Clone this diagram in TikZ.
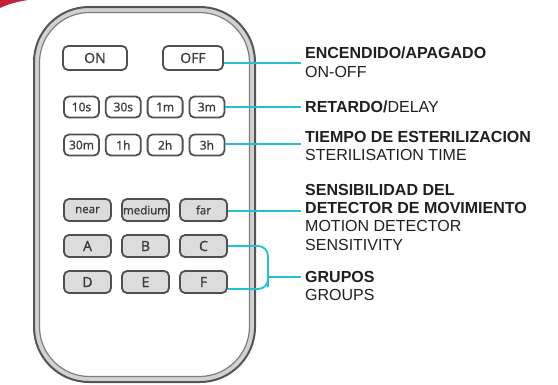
\documentclass[tikz,border=0pt]{standalone}
\usepackage{fontspec}
\setmainfont{Liberation Sans}
\newfontfamily\keyfont{Open Sans}[FakeBold=1.3]
\usetikzlibrary{positioning}
\definecolor{leadcyan}{HTML}{22BFD6}
\definecolor{shellline}{HTML}{555555}
\definecolor{shellband}{HTML}{D2D2D2}
\definecolor{shellin}{HTML}{7E7E7E}
\definecolor{keyline}{HTML}{505050}
\definecolor{keyfill}{HTML}{DCDCDC}
\definecolor{keytext}{HTML}{3C3C3C}
\definecolor{swoosh}{HTML}{C3223A}

\begin{document}
\begin{tikzpicture}[x=1pt, y=-1pt,
  key/.style={draw=keyline, line width=1.8pt, rounded corners=5pt,
              inner sep=0pt, text=keytext, fill=white},
  keybig/.style={key, minimum height=24pt, font=\keyfont\fontsize{14}{14}\selectfont},
  keysm/.style={key, minimum width=35pt, minimum height=21pt,
                font=\keyfont\fontsize{12}{12}\selectfont},
  keygrey/.style={key, fill=keyfill, minimum width=47pt, minimum height=22pt},
  lead/.style={draw=leadcyan, line width=1.8pt},
  lbl/.style={anchor=north west, inner sep=0pt, align=left,
              font=\fontsize{16}{18.3}\selectfont, text=black!88}
]
\useasboundingbox (0,0) rectangle (558,384);
\fill[swoosh] (0,0) -- (28,0) .. controls (15,2) and (6,5) .. (0,8) -- cycle;

% remote body
\draw[draw=shellline, line width=2pt, fill=shellband, rounded corners=55pt]
  (34,7) rectangle (255,382);
\draw[draw=shellin, line width=1.2pt, fill=white, rounded corners=50pt]
  (39.5,12.5) rectangle (249.5,376.5);

% keys
\node[keybig, minimum width=64pt] (on)  at (95,58)  {ON};
\node[keybig, minimum width=60pt] (off) at (193,58) {OFF};
\foreach \lab/\nm [count=\i] in {10s/k10s,30s/k30s,1m/k1m,3m/k3m}
  \node[keysm] (\nm) at ({81.5+41.8*(\i-1)},107) {\lab};
\foreach \lab/\nm [count=\i] in {30m/k30m,1h/k1h,2h/k2h,3h/k3h}
  \node[keysm] (\nm) at ({81.5+41.8*(\i-1)},145) {\lab};
\foreach \lab/\nm [count=\i] in {near/near,medium/medium,far/far}
  \node[keygrey, font=\keyfont\fontsize{11.5}{11.5}\selectfont] (\nm)
    at ({87.5+58*(\i-1)},210) {\lab};
\foreach \lab [count=\i] in {A,B,C}
  \node[keygrey, font=\keyfont\fontsize{14}{14}\selectfont] (g\lab)
    at ({87.5+58*(\i-1)},246) {\lab};
\foreach \lab [count=\i] in {D,E,F}
  \node[keygrey, font=\keyfont\fontsize{14}{14}\selectfont] (g\lab)
    at ({87.5+58*(\i-1)},282) {\lab};

% labels
\node[lbl] (lblpower) at (305,47) {\textbf{ENCENDIDO/APAGADO}\\ON-OFF};
\node[lbl] (lbldelay) at (305,101) {\textbf{RETARDO/}DELAY};
\node[lbl] (lbltime) at (305,131) {\textbf{TIEMPO DE ESTERILIZACION}\\STERILISATION TIME};
\node[lbl] (lblsense) at (305,184) {\textbf{SENSIBILIDAD DEL}\\\textbf{DETECTOR DE MOVIMIENTO}\\MOTION DETECTOR\\SENSITIVITY};
\node[lbl] (lblgroup) at (305,271) {\textbf{GRUPOS}\\GROUPS};

% leads
\coordinate (epower) at (301,63);
\coordinate (edelay) at (301,107);
\coordinate (etime) at (301,144);
\coordinate (esense) at (301,211);
\coordinate (egroup) at (301,277);
\coordinate (bx) at (268,277);
\draw[lead] (off.east |- epower) -- (epower);
\draw[lead] (k3m.east |- edelay) -- (edelay);
\draw[lead] (k3h.east |- etime) -- (etime);
\draw[lead] (far.east |- esense) -- (esense);
\draw[lead, rounded corners=10pt] (gC.east) -| (bx) |- ([yshift=-7pt]gF.east);
\draw[lead] (bx) -- (egroup);
\end{tikzpicture}
\end{document}
